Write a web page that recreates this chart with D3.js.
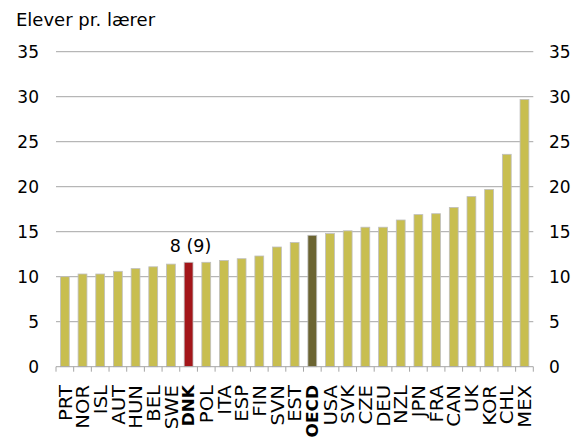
<!DOCTYPE html>
<html><head><meta charset="utf-8">
<script src="https://cdn.jsdelivr.net/npm/d3@7"></script>
<style>html,body{margin:0;padding:0;background:#fff;}svg{display:block;font-family:"DejaVu Sans",Verdana,sans-serif;}</style>
</head><body>
<svg id="c" width="585" height="439"></svg>
<script>
const categories = ["PRT","NOR","ISL","AUT","HUN","BEL","SWE","DNK","POL","ITA","ESP","FIN","SVN","EST","OECD","USA","SVK","CZE","DEU","NZL","JPN","FRA","CAN","UK","KOR","CHL","MEX"];
const values = [10.0,10.3,10.3,10.6,10.9,11.1,11.4,11.6,11.6,11.8,12.0,12.3,13.3,13.8,14.6,14.8,15.1,15.5,15.5,16.3,16.9,17.0,17.7,18.9,19.7,23.6,29.7];
const boldCats = ["DNK","OECD"];
const yTicks = [0,5,10,15,20,25,30,35];
const yTitle = "Elever pr. lærer";
const annotation = {cat:"DNK", text:"8 (9)"};

const svg = d3.select("#c");
const L = 56, R = 533.3, T = 51.7, B = 366.7;
const x = d3.scaleBand().domain(categories).range([L,R]).paddingInner(0.5).paddingOuter(0.25);
const y = d3.scaleLinear().domain([0,35]).range([B,T]);
const color = c => c==="DNK" ? "#a3161a" : c==="OECD" ? "#6b6431" : "#c8be50";

// gridlines
svg.append("g").selectAll("line").data(yTicks.filter(d=>d>0)).join("line")
  .attr("x1",L).attr("x2",R).attr("y1",d=>y(d)).attr("y2",d=>y(d))
  .attr("stroke","#a6a6a6").attr("stroke-width",1);

// left axis labels
svg.append("g").selectAll("text").data(yTicks).join("text")
  .attr("x",39).attr("y",d=>y(d)).attr("dy","0.36em").attr("text-anchor","end")
  .attr("font-size",17).attr("fill","#000").text(d=>d);
// right axis labels
svg.append("g").selectAll("text").data(yTicks).join("text")
  .attr("x",549).attr("y",d=>y(d)).attr("dy","0.36em").attr("text-anchor","start")
  .attr("font-size",17).attr("fill","#000").text(d=>d);

// title
svg.append("text").attr("x",16).attr("y",26).attr("font-size",18).attr("fill","#000").text(yTitle);

// bars
svg.append("g").selectAll("rect").data(categories).join("rect")
  .attr("x",c=>x(c)).attr("width",x.bandwidth())
  .attr("y",(c,i)=>y(values[i])).attr("height",(c,i)=>B-y(values[i]))
  .attr("fill",c=>color(c)).attr("stroke","#bfbfbf").attr("stroke-width",0.8);

// x axis
const tickXs = d3.range(categories.length+1).map(i=>L+i*(R-L)/categories.length);
svg.append("line").attr("x1",L).attr("x2",R).attr("y1",B).attr("y2",B).attr("stroke","#a6a6a6");
svg.append("g").selectAll("line").data(tickXs).join("line")
  .attr("x1",d=>d).attr("x2",d=>d).attr("y1",B).attr("y2",B+5).attr("stroke","#a6a6a6");

// x labels
svg.append("g").selectAll("text").data(categories).join("text")
  .attr("transform",c=>`translate(${x(c)+x.bandwidth()/2},385) rotate(-90) scale(1.06,1)`)
  .attr("dy","0.36em").attr("text-anchor","end")
  .attr("font-size",c=>boldCats.includes(c)?16:18.5)
  .attr("font-weight",c=>boldCats.includes(c)?"bold":"normal")
  .attr("fill","#000").text(c=>c);

// annotation
const ai = categories.indexOf(annotation.cat);
svg.append("text").attr("x",x(annotation.cat)+x.bandwidth()/2+2).attr("y",y(values[ai])-10.5)
  .attr("text-anchor","middle").attr("font-size",17.5).attr("fill","#000").text(annotation.text);
</script>
</body></html>
